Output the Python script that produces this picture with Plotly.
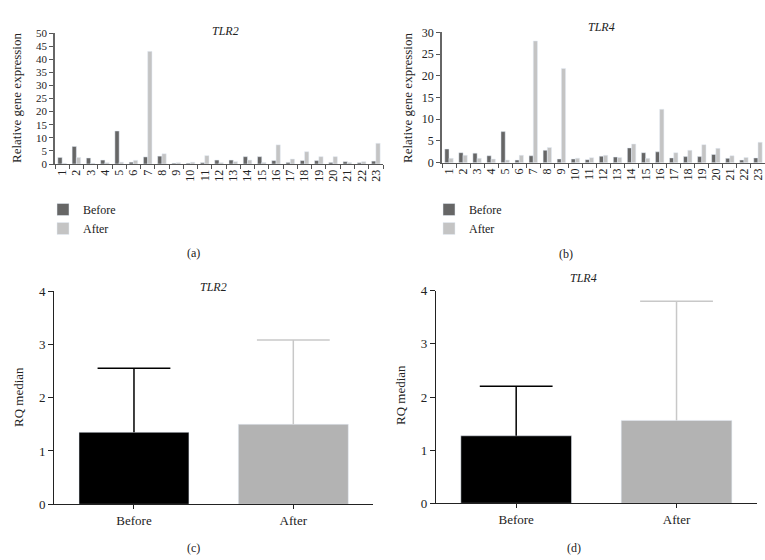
import plotly.graph_objects as go

W, H = 765, 560

samples = [str(i) for i in range(1, 24)]

tlr2_before = [2.5, 6.7, 2.3, 1.5, 12.6, 0.7, 2.7, 3.0, 0.3, 0.3, 0.5, 1.5, 1.5, 2.8, 2.8, 1.3, 0.6, 1.3, 1.3, 0.6, 0.9, 0.5, 1.1]
tlr2_after = [0.3, 2.5, 0.3, 0.5, 0.7, 1.4, 43.0, 3.9, 0.5, 0.7, 3.2, 0.5, 0.9, 1.5, 0.6, 7.3, 1.9, 4.7, 2.8, 2.8, 0.6, 0.9, 7.9]

tlr4_before = [3.15, 2.3, 2.2, 1.6, 7.15, 0.6, 1.6, 2.85, 0.85, 0.85, 0.7, 1.5, 1.3, 3.4, 2.3, 2.5, 1.1, 1.4, 1.4, 1.9, 1.0, 0.6, 1.1]
tlr4_after = [1.0, 1.7, 1.0, 0.85, 0.6, 1.7, 28.0, 3.5, 21.7, 1.05, 1.15, 1.7, 1.2, 4.3, 1.0, 12.3, 2.3, 2.85, 4.15, 3.3, 1.6, 1.2, 4.7]

groups = ["Before", "After"]
rq_tlr2 = [1.35, 1.5]
rq_tlr2_err = [1.2, 1.58]
rq_tlr4 = [1.27, 1.56]
rq_tlr4_err = [0.93, 2.24]

C_BEFORE = "#666666"
C_AFTER = "#c4c4c4"
SERIF = "Liberation Serif, Times New Roman, serif"


def px_x(a, b):
    return [a / W, b / W]


def px_y(top, bottom):
    return [1 - bottom / H, 1 - top / H]


fig = go.Figure()

# Panel (a)
fig.add_trace(go.Bar(x=samples, y=tlr2_before, name="Before", marker_color=C_BEFORE,
                     xaxis="x", yaxis="y", legend="legend"))
fig.add_trace(go.Bar(x=samples, y=tlr2_after, name="After", marker_color=C_AFTER,
                     xaxis="x", yaxis="y", legend="legend"))
# Panel (b)
fig.add_trace(go.Bar(x=samples, y=tlr4_before, name="Before", marker_color=C_BEFORE,
                     xaxis="x2", yaxis="y2", legend="legend2"))
fig.add_trace(go.Bar(x=samples, y=tlr4_after, name="After", marker_color=C_AFTER,
                     xaxis="x2", yaxis="y2", legend="legend2"))

# Panels (c) and (d)
bar_cols = ["#000000", "#b3b3b3"]
err_cols = ["#000000", "#c8c8c8"]
for (vals, errs, xa, ya) in [(rq_tlr2, rq_tlr2_err, "x3", "y3"), (rq_tlr4, rq_tlr4_err, "x4", "y4")]:
    for i, g in enumerate(groups):
        fig.add_trace(go.Bar(
            x=[g], y=[vals[i]], marker_color=bar_cols[i], showlegend=False,
            width=0.69, offset=-0.345, offsetgroup="rq",
            error_y=dict(type="data", array=[errs[i]], arrayminus=[0], symmetric=False,
                         color=err_cols[i], thickness=1.5, width=0),
            xaxis=xa, yaxis=ya))
        # cap at the upper end of the error bar only
        fig.add_trace(go.Scatter(
            x=[g], y=[vals[i] + errs[i]], mode="markers", showlegend=False, hoverinfo="skip",
            marker=dict(symbol="line-ew", size=52, color=err_cols[i],
                        line=dict(width=1.5, color=err_cols[i])),
            xaxis=xa, yaxis=ya))

tick_font = dict(family=SERIF, size=13, color="#222")
top_x = dict(type="category", showline=True, linecolor="#555", linewidth=1, ticks="outside",
             tickson="boundaries", ticklen=4, tickcolor="#555", tickangle=-90,
             tickfont=dict(family=SERIF, size=12, color="#222"), showgrid=False, zeroline=False,
             automargin=False)
top_y = dict(showline=True, linecolor="#666", linewidth=1.5, ticks="outside", ticklen=4,
             tickcolor="#555", showgrid=False, zeroline=False, automargin=False)
bot_x = dict(type="category", showline=True, linecolor="#222", linewidth=1.2, ticks="outside",
             ticklen=4, tickcolor="#222", tickfont=tick_font, showgrid=False, zeroline=False,
             automargin=False)
bot_y = dict(showline=True, linecolor="#222", linewidth=1.2, ticks="outside", ticklen=5,
             tickcolor="#222", tickfont=tick_font, showgrid=False, zeroline=False,
             range=[0, 4], dtick=1, automargin=False)

legend_style = dict(xanchor="left", yanchor="top",
                    font=dict(family=SERIF, size=12, color="#222"), bgcolor="rgba(0,0,0,0)",
                    tracegroupgap=0, itemwidth=30)

fig.update_layout(
    width=W, height=H,
    margin=dict(l=0, r=0, t=0, b=0),
    paper_bgcolor="white", plot_bgcolor="white",
    barmode="group", bargap=0.4, bargroupgap=0,
    font=dict(family=SERIF, color="#222"),
    xaxis=dict(top_x, domain=px_x(55, 383), anchor="y"),
    yaxis=dict(top_y, domain=px_y(33, 164), range=[0, 50], dtick=5, anchor="x",
               tickfont=dict(family=SERIF, size=11, color="#222")),
    xaxis2=dict(top_x, domain=px_x(442, 765), anchor="y2"),
    yaxis2=dict(top_y, domain=px_y(32.3, 162.7), range=[0, 30], dtick=5, anchor="x2",
                tickfont=dict(family=SERIF, size=12, color="#222")),
    xaxis3=dict(bot_x, domain=px_x(54.3, 373), anchor="y3"),
    yaxis3=dict(bot_y, domain=px_y(291, 504.3), anchor="x3"),
    xaxis4=dict(bot_x, domain=px_x(436, 756.7), anchor="y4"),
    yaxis4=dict(bot_y, domain=px_y(290.7, 503.3), anchor="x4"),
    legend=dict(legend_style, x=43 / W, y=1 - 195 / H),
    legend2=dict(legend_style, x=429 / W, y=1 - 195 / H),
    showlegend=True,
)

ann = [
    ("<i>TLR2</i>", 225, 31),
    ("<i>TLR4</i>", 601, 27),
    ("<i>TLR2</i>", 213, 287),
    ("<i>TLR4</i>", 583, 278),
    ("(a)", 193, 253),
    ("(b)", 566, 254),
    ("(c)", 193, 548),
    ("(d)", 574, 548),
]
for text, x, y in ann:
    fig.add_annotation(text=text, x=x / W, y=1 - y / H, xref="paper", yref="paper",
                       showarrow=False, xanchor="center", yanchor="middle",
                       font=dict(family=SERIF, size=12, color="#222"))

# y-axis titles
ytitles = [
    ("Relative gene expression", 16, 98),
    ("Relative gene expression", 407, 98),
    ("RQ median", 18, 397),
    ("RQ median", 400, 395),
]
for text, x, y in ytitles:
    fig.add_annotation(text=text, x=x / W, y=1 - y / H, xref="paper", yref="paper",
                       showarrow=False, xanchor="center", yanchor="middle", textangle=-90,
                       font=dict(family=SERIF, size=13, color="#222"))

fig.write_html("out.html", post_script="document.body.style.margin='0';",
               config={"displayModeBar": False})
